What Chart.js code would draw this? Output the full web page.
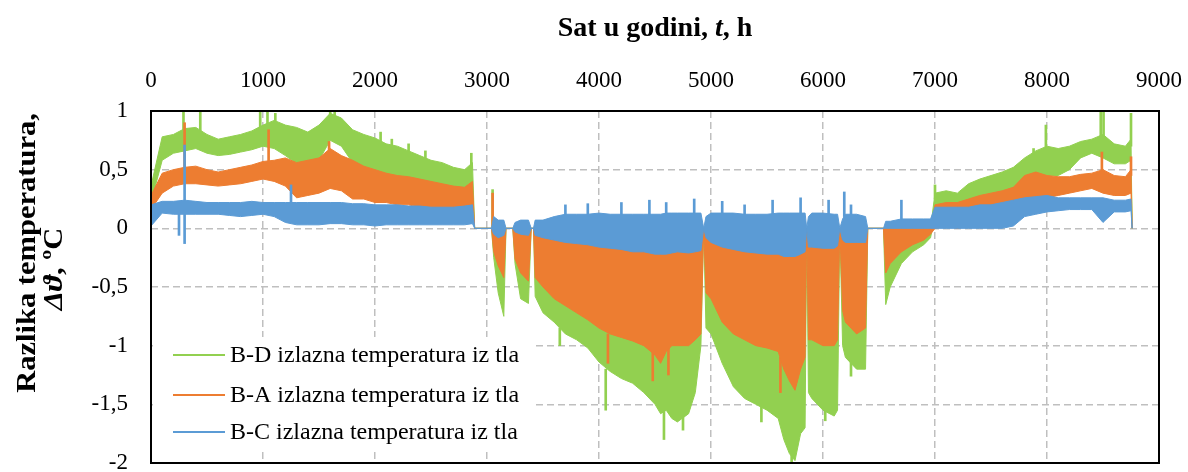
<!DOCTYPE html>
<html>
<head>
<meta charset="utf-8">
<script src="https://cdn.jsdelivr.net/npm/chart.js@4.4.1/dist/chart.umd.min.js"></script>
<style>
  html, body { margin: 0; padding: 0; background: #fff; }
  #wrap { width: 1188px; height: 472px; }
</style>
</head>
<body>
<div id="wrap"><canvas id="chart" width="1188" height="472"></canvas></div>
<script>
// hour of the year (shared x values for the envelopes)
const hours = [
  0, 100, 200, 300, 400, 500, 600, 700, 800, 900,
  1000, 1100, 1200, 1300, 1400, 1500, 1600, 1700, 1800, 1900,
  2000, 2100, 2200, 2300, 2400, 2500, 2600, 2700, 2800, 2870,
  2890, 3040, 3060, 3100, 3150, 3170, 3230, 3250, 3300, 3370,
  3395, 3415, 3430, 3500, 3600, 3700, 3800, 3900, 4000, 4100,
  4200, 4300, 4400, 4500, 4550, 4600, 4650, 4700, 4800, 4860,
  4910, 4935, 4955, 5000, 5100, 5200, 5300, 5400, 5500, 5600,
  5650, 5700, 5750, 5800, 5840, 5855, 5870, 5900, 6000, 6100,
  6130, 6150, 6175, 6200, 6300, 6380, 6400, 6540, 6560, 6600,
  6700, 6800, 6900, 6960, 7000, 7100, 7200, 7300, 7400, 7500,
  7600, 7700, 7800, 7900, 8000, 8100, 8200, 8300, 8400, 8500,
  8600, 8700, 8750, 8760
];

// B-D (green): upper / lower edge of the band
const greenHi = [
  0.36, 0.78, 0.80, 0.85, 0.86, 0.80, 0.76, 0.78, 0.80, 0.83,
  0.88, 0.92, 0.88, 0.86, 0.82, 0.88, 0.98, 0.94, 0.84, 0.80,
  0.77, 0.72, 0.70, 0.66, 0.62, 0.58, 0.56, 0.52, 0.50, 0.56,
  0, 0, 0, 0, 0, 0, 0, 0, 0, 0,
  0, 0, 0, 0, 0, 0, 0, 0, 0, 0,
  0, 0, 0, 0, 0, 0, 0, 0, 0, 0,
  0, 0, 0, 0, 0, 0, 0, 0, 0, 0,
  0, 0, 0, 0, 0, 0, 0, 0, 0, 0,
  0, 0, 0, 0, 0, 0, 0, 0, 0, 0,
  0, 0, 0, 0, 0.30, 0.32, 0.30, 0.38, 0.42, 0.45,
  0.48, 0.52, 0.60, 0.66, 0.70, 0.68, 0.70, 0.74, 0.76, 0.80,
  0.72, 0.70, 0.76, 0
];
const greenLo = [
  0.22, 0.58, 0.64, 0.66, 0.68, 0.64, 0.62, 0.63, 0.65, 0.67,
  0.70, 0.68, 0.62, 0.55, 0.55, 0.58, 0.75, 0.70, 0.56, 0.52,
  0.50, 0.45, 0.42, 0.40, 0.36, 0.34, 0.32, 0.30, 0.28, 0.30,
  0, 0, -0.25, -0.55, -0.75, 0, 0, -0.30, -0.60, -0.64,
  0, 0, -0.58, -0.72, -0.80, -0.90, -0.95, -1.02, -1.14, -1.22,
  -1.28, -1.32, -1.40, -1.50, -1.58, -1.55, -1.62, -1.65, -1.58, -1.40,
  -1.00, 0, -0.85, -0.90, -1.15, -1.35, -1.45, -1.50, -1.55, -1.62,
  -1.80, -1.92, -1.98, -1.75, -1.70, 0, -1.40, -1.45, -1.55, -1.60,
  -1.55, 0, -1.00, -1.10, -1.20, -1.20, 0, 0, -0.65, -0.50,
  -0.30, -0.20, -0.14, -0.08, 0.10, 0.12, 0.10, 0.10, 0.12, 0.15,
  0.20, 0.22, 0.35, 0.40, 0.45, 0.45, 0.50, 0.60, 0.64, 0.60,
  0.55, 0.55, 0.58, 0
];

// B-A (orange)
const orangeHi = [
  0.28, 0.47, 0.50, 0.52, 0.53, 0.50, 0.48, 0.50, 0.52, 0.54,
  0.57, 0.58, 0.60, 0.56, 0.58, 0.60, 0.68, 0.62, 0.58, 0.53,
  0.50, 0.47, 0.45, 0.44, 0.42, 0.40, 0.38, 0.36, 0.35, 0.40,
  0, 0, 0, 0, 0, 0, 0, 0, 0, 0,
  0, 0, 0, 0, 0, 0, 0, 0, 0, 0,
  0, 0, 0, 0, 0, 0, 0, 0, 0, 0,
  0, 0, 0, 0, 0, 0, 0, 0, 0, 0,
  0, 0, 0, 0, 0, 0, 0, 0, 0, 0,
  0, 0, 0, 0, 0, 0, 0, 0, 0, 0,
  0, 0, 0, 0, 0.20, 0.22, 0.22, 0.25, 0.28, 0.30,
  0.32, 0.35, 0.45, 0.48, 0.45, 0.44, 0.44, 0.46, 0.47, 0.50,
  0.45, 0.44, 0.50, 0
];
const orangeLo = [
  0.16, 0.30, 0.36, 0.38, 0.38, 0.37, 0.36, 0.37, 0.38, 0.40,
  0.42, 0.40, 0.36, 0.26, 0.28, 0.30, 0.34, 0.32, 0.25, 0.25,
  0.22, 0.22, 0.20, 0.20, 0.18, 0.18, 0.17, 0.17, 0.16, 0.18,
  0, 0, -0.20, -0.32, -0.42, 0, 0, -0.26, -0.38, -0.45,
  0, 0, -0.42, -0.50, -0.60, -0.66, -0.72, -0.78, -0.85, -0.90,
  -0.93, -0.96, -1.00, -1.08, -1.15, -1.05, -1.00, -1.00, -1.00, -0.95,
  -0.90, 0, -0.55, -0.60, -0.80, -0.90, -0.95, -1.00, -1.02, -1.05,
  -1.20, -1.30, -1.38, -1.20, -1.10, 0, -0.95, -0.95, -1.00, -1.00,
  -0.95, 0, -0.70, -0.80, -0.90, -0.85, 0, 0, -0.38, -0.30,
  -0.20, -0.14, -0.10, -0.05, 0.00, 0.02, 0.00, 0.02, 0.03, 0.05,
  0.10, 0.12, 0.20, 0.24, 0.26, 0.28, 0.30, 0.32, 0.34, 0.30,
  0.28, 0.28, 0.30, 0
];

// B-C (blue)
const blueHi = [
  0.20, 0.23, 0.23, 0.24, 0.23, 0.22, 0.22, 0.22, 0.22, 0.23,
  0.22, 0.22, 0.22, 0.22, 0.22, 0.22, 0.22, 0.22, 0.21, 0.21,
  0.20, 0.20, 0.20, 0.19, 0.19, 0.18, 0.18, 0.18, 0.19, 0.20,
  0, 0, 0.10, 0.07, 0.07, 0, 0, 0.05, 0.07, 0.07,
  0, 0, 0.07, 0.07, 0.10, 0.12, 0.12, 0.12, 0.13, 0.12,
  0.12, 0.12, 0.12, 0.12, 0.12, 0.13, 0.13, 0.13, 0.13, 0.13,
  0.13, 0, 0.10, 0.13, 0.13, 0.13, 0.12, 0.12, 0.12, 0.13,
  0.13, 0.13, 0.13, 0.13, 0.13, 0, 0.10, 0.13, 0.13, 0.12,
  0.12, 0, 0.08, 0.12, 0.12, 0.10, 0, 0, 0.06, 0.06,
  0.08, 0.08, 0.08, 0.08, 0.18, 0.18, 0.18, 0.18, 0.20, 0.20,
  0.22, 0.24, 0.26, 0.27, 0.28, 0.26, 0.26, 0.26, 0.26, 0.26,
  0.24, 0.24, 0.25, 0
];
const blueLo = [
  0.02, 0.13, 0.12, 0.12, 0.12, 0.12, 0.12, 0.11, 0.10, 0.11,
  0.12, 0.10, 0.05, 0.03, 0.03, 0.03, 0.04, 0.04, 0.03, 0.03,
  0.02, 0.03, 0.03, 0.03, 0.03, 0.03, 0.03, 0.03, 0.03, 0.04,
  0, 0, -0.05, -0.08, -0.06, 0, 0, -0.03, -0.05, -0.06,
  0, 0, -0.06, -0.08, -0.10, -0.12, -0.13, -0.14, -0.16, -0.17,
  -0.18, -0.20, -0.20, -0.22, -0.22, -0.22, -0.21, -0.20, -0.21, -0.20,
  -0.19, 0, -0.08, -0.12, -0.16, -0.18, -0.20, -0.21, -0.22, -0.22,
  -0.24, -0.24, -0.24, -0.22, -0.20, 0, -0.16, -0.16, -0.17, -0.17,
  -0.15, 0, -0.10, -0.12, -0.12, -0.12, 0, 0, 0.00, 0.00,
  0.00, 0.00, 0.00, 0.00, 0.00, 0.00, 0.00, 0.00, 0.00, 0.00,
  0.00, 0.02, 0.10, 0.12, 0.14, 0.15, 0.16, 0.16, 0.16, 0.05,
  0.14, 0.14, 0.15, 0
];

// single-hour spikes sticking out of the bands
const greenSpikeHours = [290, 440, 975, 1040, 1110, 1600, 1640, 2050, 2150, 2300, 2450, 2860,
  3050, 3650, 4060, 4580, 4750, 5450, 5720, 6020, 6250, 7000, 7880, 7990, 8480, 8505, 8750];
const greenSpikeLo = [0.80, 0.80, 0.80, 0.85, 0.85, 0.90, 0.90, 0.70, 0.65, 0.60, 0.55, 0.50,
  0.00, -0.85, -1.20, -1.55, -1.60, -1.45, -1.90, -1.50, -1.10, 0.25, 0.55, 0.65, 0.75, 0.75, 0.70];
const greenSpikeHi = [1.00, 1.00, 1.00, 1.00, 0.98, 1.00, 1.00, 0.82, 0.76, 0.72, 0.66, 0.64,
  0.33, -1.00, -1.55, -1.80, -1.72, -1.65, -2.00, -1.64, -1.26, 0.37, 0.68, 0.88, 1.00, 1.00, 0.98];
const orangeSpikeHours = [300, 1050, 1590, 3050, 4080, 4480, 4620, 5620, 8490, 8750];
const orangeSpikeLo = [0.50, 0.55, 0.60, 0.00, -0.90, -1.05, -1.00, -1.10, 0.45, 0.45];
const orangeSpikeHi = [0.90, 0.84, 0.74, 0.30, -1.15, -1.30, -1.25, -1.40, 0.65, 0.61];
const blueSpikeHours = [250, 300, 1250, 3700, 3900, 4200, 4450, 4600, 4850, 5100, 5300, 5550, 5800, 6050, 6190, 6250, 6700];
const blueSpikeLo = [-0.06, -0.13, 0.20, 0.10, 0.10, 0.10, 0.10, 0.10, 0.10, 0.10, 0.10, 0.10, 0.10, 0.10, 0.10, 0.10, 0.05];
const blueSpikeHi = [0.12, 0.71, 0.37, 0.20, 0.21, 0.22, 0.24, 0.22, 0.25, 0.23, 0.20, 0.24, 0.26, 0.24, 0.31, 0.20, 0.24];

const seriesNames = [
  'B-D izlazna temperatura iz tla',
  'B-A izlazna temperatura iz tla',
  'B-C izlazna temperatura iz tla'
];
const GREEN = '#92D050', ORANGE = '#ED7D31', BLUE = '#5B9BD5';
const SERIF = "'Liberation Serif', 'Times New Roman', serif";

const pts = vals => hours.map((h, i) => ({ x: h, y: vals[i] }));

function band(color, hi, lo, spH, spLo, spHi) {
  return [
    { type: 'line', data: pts(hi), borderColor: color, backgroundColor: color,
      borderWidth: 1, pointRadius: 0, tension: 0, fill: '+1' },
    { type: 'line', data: pts(lo), borderColor: color, borderWidth: 1,
      pointRadius: 0, tension: 0, fill: false },
    { type: 'bar', data: spH.map((h, i) => ({ x: h, y: [spLo[i], spHi[i]] })),
      backgroundColor: color, barThickness: 2, grouped: false }
  ];
}

// earlier datasets are drawn on top -> blue first, green last
const datasets = [
  ...band(BLUE, blueHi, blueLo, blueSpikeHours, blueSpikeLo, blueSpikeHi),
  ...band(ORANGE, orangeHi, orangeLo, orangeSpikeHours, orangeSpikeLo, orangeSpikeHi),
  ...band(GREEN, greenHi, greenLo, greenSpikeHours, greenSpikeLo, greenSpikeHi)
];

function richText(ctx, parts, cx, y) {
  let total = 0;
  parts.forEach(p => { ctx.font = p[1]; total += ctx.measureText(p[0]).width; });
  let x = cx - total / 2;
  ctx.textAlign = 'left';
  parts.forEach(p => { ctx.font = p[1]; ctx.fillText(p[0], x, y); x += ctx.measureText(p[0]).width; });
}

const decor = {
  id: 'decor',
  afterDatasetsDraw(chart) {
    const ctx = chart.ctx;
    const a = chart.chartArea;
    ctx.save();
    // legend box inside the plot
    ctx.fillStyle = '#fff';
    ctx.fillRect(a.left + 2, 337, 380, 114);
    const cols = [GREEN, ORANGE, BLUE];
    const rows = [355, 395, 432];
    ctx.font = '24px ' + SERIF;
    ctx.textBaseline = 'middle';
    ctx.textAlign = 'left';
    rows.forEach((y, i) => {
      ctx.strokeStyle = cols[i];
      ctx.lineWidth = 2;
      ctx.beginPath();
      ctx.moveTo(a.left + 22, y);
      ctx.lineTo(a.left + 74, y);
      ctx.stroke();
      ctx.fillStyle = '#000';
      ctx.fillText(seriesNames[i], a.left + 79, y + 1);
    });
    ctx.restore();
  },
  afterDraw(chart) {
    const ctx = chart.ctx;
    const a = chart.chartArea;
    ctx.save();
    ctx.strokeStyle = '#000';
    ctx.lineWidth = 2;
    ctx.strokeRect(a.left, a.top, a.right - a.left, a.bottom - a.top);

    const bold = 'bold 28px ' + SERIF;
    const boldIt = 'italic bold 28px ' + SERIF;
    ctx.fillStyle = '#000';
    ctx.textBaseline = 'alphabetic';
    richText(ctx, [['Sat u godini, ', bold], ['t', boldIt], [', h', bold]], (a.left + a.right) / 2, 36);

    ctx.save();
    ctx.translate(35, 253);
    ctx.rotate(-Math.PI / 2);
    ctx.scale(1.09, 1);
    richText(ctx, [['Razlika temperatura,', bold]], 0, 0);
    ctx.restore();
    ctx.save();
    ctx.translate(62, 269);
    ctx.rotate(-Math.PI / 2);
    ctx.scale(1.09, 1);
    richText(ctx, [['\u0394\u03D1', boldIt], [', \u00BAC', bold]], 0, 0);
    ctx.restore();
    ctx.restore();
  }
};

new Chart(document.getElementById('chart'), {
  type: 'line',
  data: { datasets },
  options: {
    responsive: false,
    animation: false,
    events: [],
    layout: { padding: { top: 0, left: 0, right: 29, bottom: 9 } },
    plugins: { legend: { display: false }, tooltip: { enabled: false } },
    scales: {
      x: {
        type: 'linear', position: 'top', min: 0, max: 9000, offset: false,
        ticks: { stepSize: 1000, color: '#000', padding: 16, maxRotation: 0, autoSkip: false,
                 font: { family: SERIF, size: 23 }, callback: v => String(v) },
        grid: { color: '#BFBFBF', lineWidth: 1.5, drawTicks: false, offset: false },
        border: { display: false, dash: [7, 4] },
        afterFit(s) { s.height = 111; s.paddingLeft = 0; s.paddingRight = 0; }
      },
      y: {
        min: -2, max: 1,
        ticks: { stepSize: 0.5, color: '#000', padding: 23,
                 font: { family: SERIF, size: 23 },
                 callback: v => String(v).replace('.', ',') },
        grid: { color: '#BFBFBF', lineWidth: 1.5, drawTicks: false },
        border: { display: false, dash: [7, 4] },
        afterFit(s) { s.width = 151; s.paddingTop = 0; s.paddingBottom = 0; }
      }
    }
  },
  plugins: [decor]
});
</script>
</body>
</html>
